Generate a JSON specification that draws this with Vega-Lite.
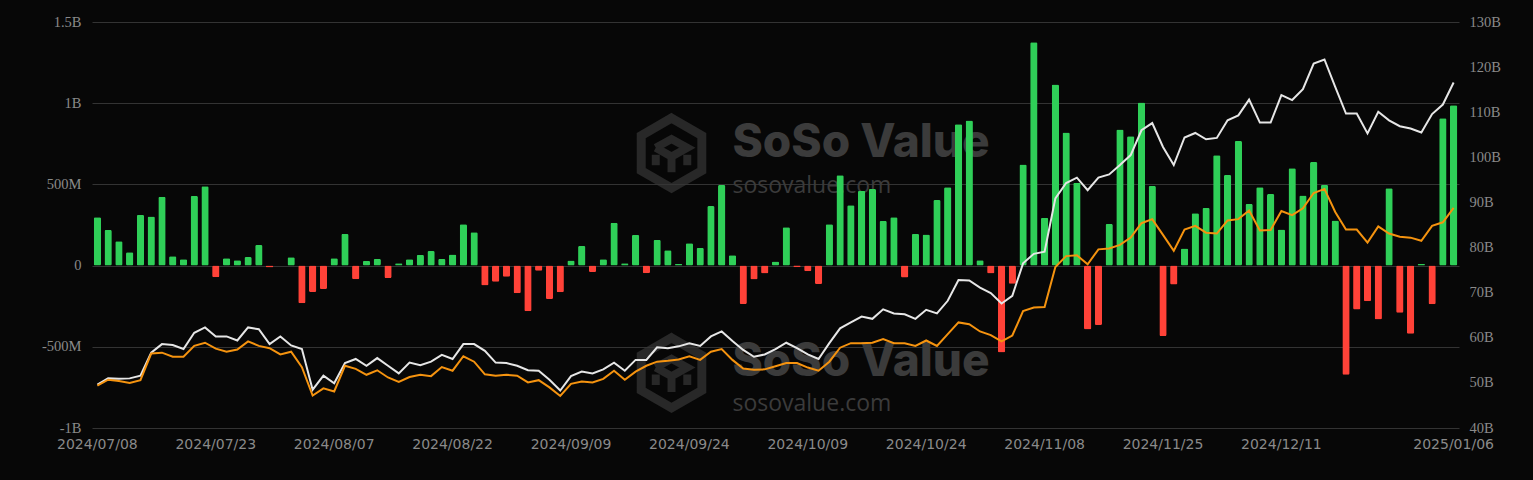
{
  "$schema": "https://vega.github.io/schema/vega-lite/v6.json",
  "autosize": {"type": "none"},
  "padding": {"left": 92, "top": 22, "right": 74, "bottom": 52},
  "width": 1367,
  "height": 406,
  "background": "#070707",
  "config": {"view": {"stroke": null}},
  "data": {"values": [
    {"d":"2024/07/08","v":297,"w":49.6,"o":49.4},
    {"d":"2024/07/09","v":219,"w":51.0,"o":50.7},
    {"d":"2024/07/10","v":150,"w":50.9,"o":50.4},
    {"d":"2024/07/11","v":82,"w":51.0,"o":50.0},
    {"d":"2024/07/12","v":312,"w":51.6,"o":50.6},
    {"d":"2024/07/15","v":303,"w":56.7,"o":56.5},
    {"d":"2024/07/16","v":424,"w":58.6,"o":56.7},
    {"d":"2024/07/17","v":57,"w":58.4,"o":55.8},
    {"d":"2024/07/18","v":39,"w":57.5,"o":55.8},
    {"d":"2024/07/19","v":428,"w":61.1,"o":58.2},
    {"d":"2024/07/22","v":488,"w":62.3,"o":58.9},
    {"d":"2024/07/23","v":-72,"w":60.3,"o":57.6},
    {"d":"2024/07/24","v":45,"w":60.3,"o":56.9},
    {"d":"2024/07/25","v":33,"w":59.4,"o":57.4},
    {"d":"2024/07/26","v":53,"w":62.3,"o":59.2},
    {"d":"2024/07/29","v":127,"w":61.9,"o":58.2},
    {"d":"2024/07/30","v":-12,"w":58.6,"o":57.7},
    {"d":"2024/07/31","v":0,"w":60.3,"o":56.3},
    {"d":"2024/08/01","v":51,"w":58.3,"o":56.9},
    {"d":"2024/08/02","v":-232,"w":57.5,"o":53.5},
    {"d":"2024/08/05","v":-162,"w":48.5,"o":47.2},
    {"d":"2024/08/06","v":-144,"w":51.6,"o":48.8},
    {"d":"2024/08/07","v":45,"w":49.9,"o":48.1},
    {"d":"2024/08/08","v":195,"w":54.4,"o":53.8},
    {"d":"2024/08/09","v":-84,"w":55.3,"o":53.1},
    {"d":"2024/08/12","v":29,"w":53.8,"o":51.8},
    {"d":"2024/08/13","v":41,"w":55.5,"o":52.8},
    {"d":"2024/08/14","v":-76,"w":53.8,"o":51.2},
    {"d":"2024/08/15","v":14,"w":52.1,"o":50.2},
    {"d":"2024/08/16","v":39,"w":54.5,"o":51.3},
    {"d":"2024/08/19","v":66,"w":53.9,"o":51.8},
    {"d":"2024/08/20","v":90,"w":54.7,"o":51.5},
    {"d":"2024/08/21","v":41,"w":56.2,"o":53.5},
    {"d":"2024/08/22","v":68,"w":55.3,"o":52.7},
    {"d":"2024/08/23","v":254,"w":58.6,"o":55.9},
    {"d":"2024/08/26","v":205,"w":58.6,"o":54.7},
    {"d":"2024/08/27","v":-123,"w":57.1,"o":51.9},
    {"d":"2024/08/28","v":-100,"w":54.5,"o":51.6},
    {"d":"2024/08/29","v":-68,"w":54.4,"o":51.8},
    {"d":"2024/08/30","v":-170,"w":53.8,"o":51.6},
    {"d":"2024/09/03","v":-281,"w":52.8,"o":50.1},
    {"d":"2024/09/04","v":-31,"w":52.7,"o":50.6},
    {"d":"2024/09/05","v":-205,"w":50.7,"o":49.0},
    {"d":"2024/09/06","v":-164,"w":48.3,"o":47.1},
    {"d":"2024/09/09","v":31,"w":51.5,"o":49.8},
    {"d":"2024/09/10","v":121,"w":52.5,"o":50.3},
    {"d":"2024/09/11","v":-39,"w":52.1,"o":50.1},
    {"d":"2024/09/12","v":39,"w":53.0,"o":50.9},
    {"d":"2024/09/13","v":264,"w":54.5,"o":52.7},
    {"d":"2024/09/16","v":14,"w":52.7,"o":50.7},
    {"d":"2024/09/17","v":189,"w":55.1,"o":52.5},
    {"d":"2024/09/18","v":-47,"w":55.1,"o":53.8},
    {"d":"2024/09/19","v":158,"w":57.9,"o":54.7},
    {"d":"2024/09/20","v":94,"w":57.7,"o":54.9},
    {"d":"2024/09/23","v":10,"w":58.1,"o":55.2},
    {"d":"2024/09/24","v":137,"w":58.8,"o":55.9},
    {"d":"2024/09/25","v":109,"w":58.2,"o":55.1},
    {"d":"2024/09/26","v":367,"w":60.3,"o":56.9},
    {"d":"2024/09/27","v":496,"w":61.4,"o":57.5},
    {"d":"2024/09/30","v":64,"w":59.3,"o":55.1},
    {"d":"2024/10/01","v":-236,"w":57.3,"o":53.2},
    {"d":"2024/10/02","v":-86,"w":55.8,"o":52.9},
    {"d":"2024/10/03","v":-49,"w":56.3,"o":53.0},
    {"d":"2024/10/04","v":25,"w":57.5,"o":53.7},
    {"d":"2024/10/07","v":236,"w":58.9,"o":54.4},
    {"d":"2024/10/08","v":-10,"w":57.7,"o":54.4},
    {"d":"2024/10/09","v":-35,"w":56.3,"o":53.4},
    {"d":"2024/10/10","v":-113,"w":55.3,"o":52.7},
    {"d":"2024/10/11","v":254,"w":58.8,"o":54.7},
    {"d":"2024/10/14","v":556,"w":62.1,"o":57.8},
    {"d":"2024/10/15","v":371,"w":63.4,"o":58.8},
    {"d":"2024/10/16","v":461,"w":64.7,"o":58.8},
    {"d":"2024/10/17","v":472,"w":64.2,"o":58.9},
    {"d":"2024/10/18","v":275,"w":66.3,"o":59.7},
    {"d":"2024/10/21","v":297,"w":65.4,"o":58.8},
    {"d":"2024/10/22","v":-74,"w":65.2,"o":58.8},
    {"d":"2024/10/23","v":195,"w":64.2,"o":58.2},
    {"d":"2024/10/24","v":191,"w":66.2,"o":59.4},
    {"d":"2024/10/25","v":404,"w":65.4,"o":58.2},
    {"d":"2024/10/28","v":482,"w":68.2,"o":60.8},
    {"d":"2024/10/29","v":871,"w":72.8,"o":63.4},
    {"d":"2024/10/30","v":894,"w":72.7,"o":63.0},
    {"d":"2024/10/31","v":33,"w":71.1,"o":61.4},
    {"d":"2024/11/01","v":-49,"w":69.9,"o":60.6},
    {"d":"2024/11/04","v":-535,"w":67.6,"o":59.2},
    {"d":"2024/11/05","v":-111,"w":69.3,"o":60.5},
    {"d":"2024/11/06","v":623,"w":76.5,"o":65.9},
    {"d":"2024/11/07","v":1376,"w":78.6,"o":66.7},
    {"d":"2024/11/08","v":295,"w":79.1,"o":66.8},
    {"d":"2024/11/11","v":1115,"w":90.9,"o":75.7},
    {"d":"2024/11/12","v":820,"w":94.3,"o":78.1},
    {"d":"2024/11/13","v":510,"w":95.5,"o":78.3},
    {"d":"2024/11/14","v":-394,"w":92.7,"o":76.3},
    {"d":"2024/11/15","v":-365,"w":95.5,"o":79.6},
    {"d":"2024/11/18","v":256,"w":96.2,"o":79.8},
    {"d":"2024/11/19","v":838,"w":98.3,"o":80.6},
    {"d":"2024/11/20","v":797,"w":100.5,"o":82.2},
    {"d":"2024/11/21","v":1004,"w":106.0,"o":85.4},
    {"d":"2024/11/22","v":490,"w":107.6,"o":86.3},
    {"d":"2024/11/25","v":-433,"w":102.3,"o":82.8},
    {"d":"2024/11/26","v":-117,"w":98.3,"o":79.3},
    {"d":"2024/11/27","v":105,"w":104.4,"o":84.0},
    {"d":"2024/11/29","v":322,"w":105.4,"o":84.8},
    {"d":"2024/12/02","v":355,"w":104.0,"o":83.3},
    {"d":"2024/12/03","v":679,"w":104.3,"o":83.1},
    {"d":"2024/12/04","v":558,"w":108.2,"o":86.0},
    {"d":"2024/12/05","v":767,"w":109.3,"o":86.3},
    {"d":"2024/12/06","v":379,"w":112.8,"o":88.2},
    {"d":"2024/12/09","v":482,"w":107.7,"o":83.8},
    {"d":"2024/12/10","v":441,"w":107.7,"o":83.9},
    {"d":"2024/12/11","v":223,"w":113.8,"o":88.1},
    {"d":"2024/12/12","v":599,"w":112.7,"o":87.2},
    {"d":"2024/12/13","v":431,"w":115.1,"o":88.7},
    {"d":"2024/12/16","v":638,"w":120.8,"o":92.1},
    {"d":"2024/12/17","v":496,"w":121.7,"o":93.0},
    {"d":"2024/12/18","v":277,"w":115.6,"o":87.9},
    {"d":"2024/12/19","v":-672,"w":109.7,"o":84.0},
    {"d":"2024/12/20","v":-271,"w":109.7,"o":84.0},
    {"d":"2024/12/23","v":-219,"w":105.3,"o":81.1},
    {"d":"2024/12/24","v":-332,"w":110.1,"o":84.7},
    {"d":"2024/12/26","v":476,"w":108.2,"o":83.1},
    {"d":"2024/12/27","v":-291,"w":106.9,"o":82.4},
    {"d":"2024/12/30","v":-420,"w":106.4,"o":82.2},
    {"d":"2024/12/31","v":10,"w":105.5,"o":81.5},
    {"d":"2025/01/02","v":-238,"w":109.6,"o":84.8},
    {"d":"2025/01/03","v":908,"w":111.7,"o":85.6},
    {"d":"2025/01/06","v":988,"w":116.6,"o":88.8}
  ]},
  "encoding": {
    "x": {
      "field": "d", "type": "ordinal", "title": null,
      "scale": {"paddingInner": 0.32, "paddingOuter": 0.16},
      "axis": {
        "values": ["2024/07/08","2024/07/23","2024/08/07","2024/08/22","2024/09/09","2024/09/24","2024/10/09","2024/10/24","2024/11/08","2024/11/25","2024/12/11","2025/01/06"],
        "labelAngle": 0, "domain": false, "ticks": false, "grid": false,
        "labelFont": "DejaVu Sans", "labelFontSize": 14, "labelColor": "#8a8a8a",
        "labelPadding": 9, "labelOverlap": false
      }
    }
  },
  "layer": [
    {
      "layer": [
        {
          "data": {"values": [{}]},
          "mark": {"type": "point", "shape": "M0,-1L0.866,-0.5L0.866,0.5L0,1L-0.866,0.5L-0.866,-0.5Z", "size": 4900, "filled": false, "stroke": "#363636", "strokeWidth": 9, "strokeJoin": "miter"},
          "encoding": {
            "x": {"datum": "2024/09/20", "type": "ordinal", "bandPosition": 1, "title": null},
            "y": {"datum": 693, "type": "quantitative", "title": null}
          }
        },
        {
          "data": {"values": [{}]},
          "mark": {"type": "point", "shape": "M0,-1L0.866,-0.5L0.866,0.5L0,1L-0.866,0.5L-0.866,-0.5Z", "size": 4900, "filled": false, "stroke": "#363636", "strokeWidth": 9, "strokeJoin": "miter"},
          "encoding": {
            "x": {"datum": "2024/09/20", "type": "ordinal", "bandPosition": 1, "title": null},
            "y": {"datum": -660, "type": "quantitative", "title": null}
          }
        },
        {
          "data": {"values": [{}]},
          "mark": {"type": "point", "shape": "M-0.45,-0.15L0,-0.4L0.45,-0.15L0,0.1L-0.45,-0.15M0,0.1L0,0.55M-0.45,0.05L-0.45,0.35M0.45,0.05L0.45,0.35", "size": 4900, "filled": false, "stroke": "#363636", "strokeWidth": 8},
          "encoding": {
            "x": {"datum": "2024/09/20", "type": "ordinal", "bandPosition": 1, "title": null},
            "y": {"datum": 693, "type": "quantitative", "title": null}
          }
        },
        {
          "data": {"values": [{}]},
          "mark": {"type": "point", "shape": "M-0.45,-0.15L0,-0.4L0.45,-0.15L0,0.1L-0.45,-0.15M0,0.1L0,0.55M-0.45,0.05L-0.45,0.35M0.45,0.05L0.45,0.35", "size": 4900, "filled": false, "stroke": "#363636", "strokeWidth": 8},
          "encoding": {
            "x": {"datum": "2024/09/20", "type": "ordinal", "bandPosition": 1, "title": null},
            "y": {"datum": -660, "type": "quantitative", "title": null}
          }
        },
        {
          "data": {"values": [{}]},
          "mark": {"type": "text", "text": "SoSo Value", "font": "Inter", "fontWeight": 800, "fontSize": 46, "align": "left", "baseline": "alphabetic", "color": "#3b3b3b"},
          "encoding": {
            "x": {"datum": "2024/09/30", "type": "ordinal", "title": null},
            "y": {"datum": 668, "type": "quantitative", "title": null}
          }
        },
        {
          "data": {"values": [{}]},
          "mark": {"type": "text", "text": "SoSo Value", "font": "Inter", "fontWeight": 800, "fontSize": 46, "align": "left", "baseline": "alphabetic", "color": "#3b3b3b"},
          "encoding": {
            "x": {"datum": "2024/09/30", "type": "ordinal", "title": null},
            "y": {"datum": -680, "type": "quantitative", "title": null}
          }
        },
        {
          "data": {"values": [{}]},
          "mark": {"type": "text", "text": "sosovalue.com", "font": "Open Sans", "fontSize": 23, "align": "left", "baseline": "alphabetic", "color": "#3b3b3b"},
          "encoding": {
            "x": {"datum": "2024/09/30", "type": "ordinal", "title": null},
            "y": {"datum": 450, "type": "quantitative", "title": null}
          }
        },
        {
          "data": {"values": [{}]},
          "mark": {"type": "text", "text": "sosovalue.com", "font": "Open Sans", "fontSize": 23, "align": "left", "baseline": "alphabetic", "color": "#3b3b3b"},
          "encoding": {
            "x": {"datum": "2024/09/30", "type": "ordinal", "title": null},
            "y": {"datum": -895, "type": "quantitative", "title": null}
          }
        },
        {
          "mark": {"type": "bar", "cornerRadius": 1.5},
          "encoding": {
            "y": {
              "field": "v", "type": "quantitative", "title": null,
              "scale": {"domain": [-1000, 1500], "nice": false, "zero": true},
              "axis": {
                "orient": "left", "values": [-1000, -500, 0, 500, 1000, 1500],
                "labelExpr": "datum.value == 0 ? '0' : (abs(datum.value) >= 1000 ? (datum.value/1000) + 'B' : datum.value + 'M')",
                "grid": true, "gridColor": "#333333", "gridWidth": 1,
                "domain": false, "ticks": false,
                "labelFont": "Liberation Serif", "labelFontSize": 14.5, "labelColor": "#8a8a8a",
                "labelPadding": 11
              }
            },
            "color": {"condition": {"test": "datum.v >= 0", "value": "#2fcf58"}, "value": "#ff4238"}
          }
        }
      ]
    },
    {
      "layer": [
        {
          "mark": {"type": "line", "color": "#e6e6e6", "strokeWidth": 2},
          "encoding": {
            "y": {
              "field": "w", "type": "quantitative", "title": null,
              "scale": {"domain": [40, 130], "nice": false, "zero": false},
              "axis": {
                "orient": "right", "values": [40, 50, 60, 70, 80, 90, 100, 110, 120, 130],
                "labelExpr": "datum.value + 'B'",
                "grid": false, "domain": false, "ticks": false,
                "labelFont": "Liberation Serif", "labelFontSize": 14.5, "labelColor": "#8a8a8a",
                "labelPadding": 10
              }
            }
          }
        },
        {
          "mark": {"type": "line", "color": "#f5930f", "strokeWidth": 2},
          "encoding": {
            "y": {"field": "o", "type": "quantitative", "title": null}
          }
        }
      ]
    }
  ],
  "resolve": {"scale": {"y": "independent"}, "axis": {"y": "independent"}}
}
